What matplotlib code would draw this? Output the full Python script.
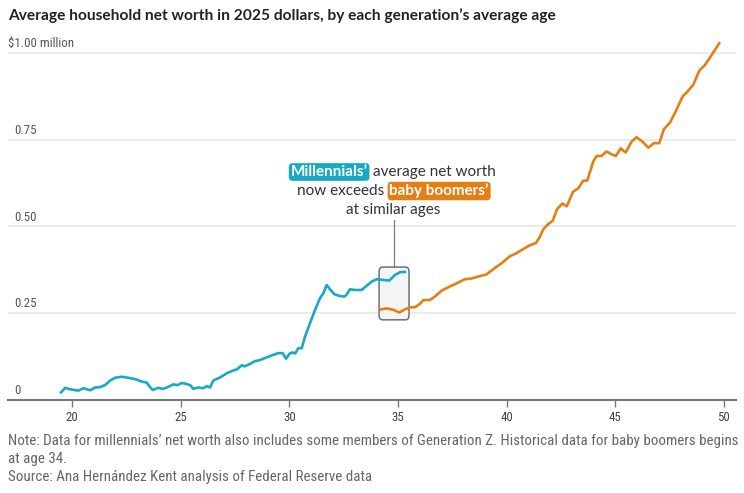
import matplotlib
matplotlib.use('Agg')
import matplotlib.pyplot as plt
from matplotlib.patches import FancyBboxPatch
from matplotlib.transforms import blended_transform_factory

narrow = ['Roboto Condensed', 'DejaVu Sans']
plt.rcParams['font.family'] = narrow

teal = '#18a9c4'
orange = '#e47f15'

# average household net worth, $ millions (2025 dollars), by average age
mill_age = [19.49, 19.68, 19.9, 20.29, 20.52, 20.83, 21.06, 21.29, 21.52, 21.75,
            21.98, 22.29, 22.59, 22.9, 23.21, 23.44, 23.55, 23.71, 23.97, 24.2,
            24.43, 24.66, 24.85, 25.05, 25.28, 25.45, 25.58, 25.81, 26.04, 26.2,
            26.35, 26.5, 26.81, 27.12, 27.42, 27.58, 27.81, 27.95, 28.19, 28.42,
            28.65, 28.96, 29.26, 29.49, 29.69, 29.85, 30.0, 30.14, 30.27, 30.41,
            30.57, 30.72, 30.95, 31.18, 31.41, 31.56, 31.72, 31.87, 32.07, 32.3,
            32.52, 32.62, 32.79, 33.02, 33.33, 33.56, 33.79, 34.02, 34.29, 34.6,
            34.86, 35.09, 35.32]
mill_val = [0.022, 0.035, 0.031, 0.027, 0.034, 0.028, 0.036, 0.037, 0.043, 0.056,
            0.064, 0.067, 0.064, 0.060, 0.053, 0.050, 0.040, 0.029, 0.035, 0.032,
            0.038, 0.045, 0.043, 0.049, 0.046, 0.042, 0.032, 0.036, 0.034, 0.040,
            0.036, 0.056, 0.065, 0.077, 0.085, 0.088, 0.100, 0.097, 0.104, 0.112,
            0.115, 0.123, 0.130, 0.135, 0.135, 0.119, 0.133, 0.137, 0.134, 0.149,
            0.149, 0.182, 0.221, 0.259, 0.293, 0.307, 0.331, 0.319, 0.305, 0.300,
            0.298, 0.302, 0.319, 0.317, 0.317, 0.329, 0.341, 0.348, 0.346, 0.344,
            0.360, 0.368, 0.369]

boom_age = [34.22, 34.48, 34.79, 35.06, 35.28, 35.55, 35.78, 36.01, 36.17, 36.47,
            36.7, 37.01, 37.39, 37.7, 38.08, 38.39, 38.78, 39.08, 39.39, 39.77,
            40.15, 40.46, 40.69, 41.08, 41.35, 41.54, 41.69, 41.92, 42.12, 42.33,
            42.57, 42.77, 43.06, 43.3, 43.53, 43.71, 43.87, 43.99, 44.14, 44.37,
            44.6, 44.83, 45.03, 45.25, 45.48, 45.75, 45.98, 46.26, 46.52, 46.78,
            47.03, 47.24, 47.52, 47.78, 48.1, 48.32, 48.59, 48.87, 49.13, 49.44,
            49.79]
boom_val = [0.261, 0.264, 0.260, 0.252, 0.260, 0.267, 0.267, 0.277, 0.288, 0.288,
            0.298, 0.315, 0.327, 0.336, 0.348, 0.350, 0.357, 0.362, 0.377, 0.394,
            0.414, 0.423, 0.432, 0.446, 0.452, 0.471, 0.492, 0.507, 0.516, 0.550,
            0.566, 0.558, 0.600, 0.610, 0.632, 0.632, 0.663, 0.687, 0.703, 0.703,
            0.716, 0.708, 0.703, 0.725, 0.713, 0.744, 0.757, 0.744, 0.727, 0.740,
            0.740, 0.780, 0.799, 0.831, 0.874, 0.888, 0.908, 0.949, 0.965, 0.994,
            1.028]

xticks = [20, 25, 30, 35, 40, 45, 50]
yticks = [0, 0.25, 0.5, 0.75, 1.0]
ylabels = ['0', '0.25', '0.50', '0.75', '$1.00 million']

title = 'Average household net worth in 2025 dollars, by each generation\u2019s average age'
notes = ['Note: Data for millennials\u2019 net worth also includes some members of '
         'Generation Z. Historical data for baby boomers begins',
         'at age 34.',
         'Source: Ana Hern\u00e1ndez Kent analysis of Federal Reserve data']

fig = plt.figure(figsize=(7.44, 4.93), dpi=100)
fig.canvas.draw()
r = fig.canvas.get_renderer()


def fit(t, target):
    # scale the font so the text is as wide as in the reference
    w = t.get_window_extent(r).width
    t.set_fontsize(t.get_fontsize() * target / w)
    return t.get_fontsize()


ax = fig.add_axes([8/744, 1 - 400/493, 728/744, 361/493])
ax.set_xlim(17.05, 50.56)
ax.set_ylim(0, 1.04)

for v in yticks[1:]:
    ax.axhline(v, color='#e8e8e8', lw=1.2, zorder=0)
for s in ['top', 'right', 'left']:
    ax.spines[s].set_visible(False)
ax.spines['bottom'].set_color('#777777')
ax.spines['bottom'].set_linewidth(1.5)
ax.set_yticks([])
ax.set_xticks(xticks)

tr = blended_transform_factory(fig.transFigure, ax.transData)
lab_size = 9.5
for v, lab in zip(yticks[::-1], ylabels[::-1]):
    x0 = 8/744 if v == 1.0 else 14/744
    t = ax.text(x0, v + 0.027, lab, transform=tr, fontsize=lab_size,
                color='#555555', ha='left', va='center')
    if v == 1.0:
        lab_size = fit(t, 66)

ax.tick_params(axis='x', length=5, width=1, color='#777777', labelsize=lab_size,
               labelcolor='#444444', pad=3)

# highlight box
box = FancyBboxPatch((34.13, 0.231), 1.38, 0.152,
                     boxstyle='round,pad=0,rounding_size=0.15',
                     mutation_aspect=0.1, fc='#f3f5f5', ec='#6b7078', lw=1.1, zorder=1)
ax.add_patch(box)
ax.plot([34.82, 34.82], [0.383, 0.518], color='#7a7f86', lw=0.9, zorder=1)

ax.plot(mill_age, mill_val, color=teal, lw=1.9, zorder=3, clip_on=False,
        solid_joinstyle='round')
ax.plot(boom_age, boom_val, color=orange, lw=1.9, zorder=3, clip_on=False,
        solid_joinstyle='round')

t = fig.text(8/744, 1 - 16/493, title, fontsize=11, fontweight='bold',
             family=['Lato', 'DejaVu Sans'], color='#222222', ha='left', va='center')
fit(t, 545)

note_size = 10
for i, (txt, yy) in enumerate(zip(notes, [441, 459, 477])):
    t = fig.text(8/744, 1 - yy/493, txt, fontsize=note_size, color='#666666',
                 ha='left', va='center')
    if i == 0:
        note_size = fit(t, 727)

# annotation, built piece by piece and centred on the box
ann_font = ['Lato', 'DejaVu Sans']
lines = [[('Millennials\u2019', teal), ('average net worth', None)],
         [('now exceeds', None), ('baby boomers\u2019', orange)],
         [('at similar ages', None)]]
line_y = [172, 191, 210]
cx = 393
for parts, yy in zip(lines, line_y):
    objs = []
    for txt, bg in parts:
        kw = dict(fontsize=11, family=ann_font, va='center', ha='left')
        if bg:
            t = fig.text(0, 1 - yy/493, txt, color='white', fontweight='bold',
                         bbox=dict(boxstyle='round,pad=0.12,rounding_size=0.25',
                                   fc=bg, ec='none'), **kw)
        else:
            t = fig.text(0, 1 - yy/493, txt, color='#333333', **kw)
        objs.append(t)
    widths = [o.get_window_extent(r).width for o in objs]
    gap = 5
    x = cx - (sum(widths) + gap * (len(objs) - 1)) / 2
    for o, w in zip(objs, widths):
        o.set_x(x / 744)
        x += w + gap

fig.savefig('out.png', dpi=100)
